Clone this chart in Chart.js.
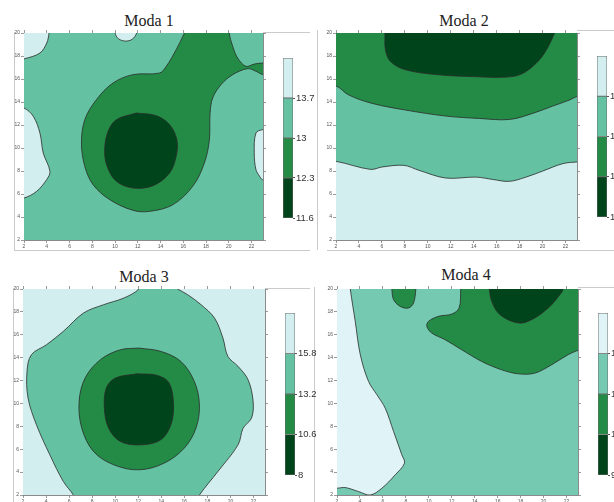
<!DOCTYPE html>
<html lang="pt-br">
<head>
<meta charset="UTF-8">
<title>Modas</title>
<script src="https://cdn.jsdelivr.net/npm/chart.js"></script>
<style>
    body { margin: 0; background: #fff; }
    #fig { position: relative; width: 614px; height: 502px; overflow: hidden; background: #fff; }
    .titulo { position: absolute; font-family: 'Liberation Serif', 'DejaVu Serif', serif; font-size: 16px; color: #222; transform: translateX(-50%); white-space: nowrap; }
    .box { position: absolute; }
    .linha { position: absolute; background: #cacaca; }
</style>
</head>
<body>
<div id="fig">
    <div class="linha" style="left:14px; top:32px; width:1px; height:218px"></div>
    <div class="linha" style="left:263px; top:32px; width:47px; height:1px"></div>
    <div class="linha" style="left:14px; top:250px; width:296px; height:1px"></div>
    <div class="linha" style="left:317px; top:30px; width:1px; height:220px"></div>
    <div class="linha" style="left:577px; top:30px; width:37px; height:1px"></div>
    <div class="linha" style="left:327px; top:250px; width:287px; height:1px"></div>
    <div class="linha" style="left:13px; top:288px; width:1px; height:214px"></div>
    <div class="linha" style="left:265px; top:288px; width:45px; height:1px"></div>
    <div class="linha" style="left:314px; top:287px; width:1px; height:215px"></div>
    <div class="linha" style="left:578px; top:287px; width:36px; height:1px"></div>

    <div class="titulo" style="left:149px; top:12px">Moda 1</div>
    <div class="titulo" style="left:464px; top:12px">Moda 2</div>
    <div class="titulo" style="left:144px; top:268px">Moda 3</div>
    <div class="titulo" style="left:466px; top:266px">Moda 4</div>

    <div class="box" style="left:4px; top:28px"><canvas id="moda1" width="264" height="224"></canvas></div>
    <div class="box" style="left:316px; top:28px"><canvas id="moda2" width="266" height="224"></canvas></div>
    <div class="box" style="left:3px; top:284px"><canvas id="moda3" width="267" height="223"></canvas></div>
    <div class="box" style="left:317px; top:284px"><canvas id="moda4" width="266" height="223"></canvas></div>

    <div class="box" style="left:283px; top:50px"><canvas id="barra1" width="50" height="176"></canvas></div>
    <div class="box" style="left:597px; top:48px"><canvas id="barra2" width="50" height="177"></canvas></div>
    <div class="box" style="left:285px; top:305px"><canvas id="barra3" width="50" height="178"></canvas></div>
    <div class="box" style="left:598px; top:305px"><canvas id="barra4" width="50" height="178"></canvas></div>
</div>

<script>
    // marcas dos eixos
    var ticksX = [2, 4, 6, 8, 10, 12, 14, 16, 18, 20, 22];
    var ticksY = [2, 4, 6, 8, 10, 12, 14, 16, 18, 20];

    // niveis das barras de cor (de baixo pra cima)
    var niveis1 = [11.6, 12.3, 13, 13.7];
    var niveis2 = [11.2, 12.4, 13.6, 14.8];
    var niveis3 = [8, 10.6, 13.2, 15.8];
    var niveis4 = [9, 11.4, 13.8, 16.2];

    var corClaro = '#d2eeee', corMedio = '#64c2a3', corVerde = '#238b45', corEscuro = '#00441b';
    var corClaro4 = '#e0f3f6', corMedio4 = '#74c9b0';

    // fundo (passa um pouco das bordas do grafico)
    var retangulo = [[1, 1], [24, 1], [24, 21], [1, 21], [1, 1]];

    // ----- Moda 1 -----
    var m1CantoSup = [[1, 21], [4.3, 21], [4.2, 20], [4.0, 19.13], [3.4, 18.26], [2, 17.75], [1, 17.6], [1, 21]];
    var m1Topo = [[9.9, 21], [10.0, 20], [10.3, 19.5], [10.9, 19.3], [11.5, 19.45], [11.9, 20], [12.0, 21], [9.9, 21]];
    var m1Esq = [[1, 13.6], [2, 13.48], [2.82, 12.75], [3.4, 11.3], [3.69, 9.57], [4.28, 7.97], [3.99, 7.25], [3.11, 6.23], [2, 5.65], [1, 5.6], [1, 13.6]];
    var m1Dir = [[24, 11.6], [22.96, 11.59], [22.38, 11.3], [22.23, 9.57], [22.38, 8.12], [22.7, 7.54], [22.96, 7.25], [24, 7.25], [24, 11.6]];
    var m1Verde = [[16.1, 20], [16.2, 21], [20.1, 21], [20.04, 20], [20.34, 18.84], [20.77, 17.83], [21.5, 17.1], [22.23, 17.3],
        [23, 17.39], [24, 17.4], [24, 16.4], [23, 16.38], [22.38, 16.67], [21.65, 16.9], [20.34, 16.38], [19.31, 15.51],
        [18.58, 14.35], [18.35, 13.04], [18.29, 10.72], [17.85, 8.7], [16.83, 6.67], [15.08, 5.07], [13.04, 4.49],
        [11.58, 4.58], [9.53, 5.51], [8.07, 6.81], [7.34, 8.41], [7.05, 10.43], [7.34, 12.46], [8.36, 14.2],
        [9.82, 15.65], [11.58, 16.38], [13.91, 16.52], [14.5, 17.1], [15.37, 18.55], [16.1, 20]];
    var m1Escuro = [[11.87, 13.04], [13.62, 12.81], [14.79, 12.03], [15.43, 10.72], [15.37, 9.28], [14.79, 7.83],
        [13.33, 6.72], [11.58, 6.52], [10.12, 7.1], [9.3, 8.41], [9.09, 9.86], [9.39, 11.45], [10.12, 12.46], [11.87, 13.04]];

    // ----- Moda 2 -----
    var m2Medio = [[1, 8.84], [2, 8.84], [5.0, 8.14], [6.02, 8.35], [7.92, 8.49], [9.23, 8.06], [11.56, 7.39], [14.19, 7.47],
        [15.64, 7.27], [17.1, 7.1], [18.56, 7.47], [20.02, 8.0], [21.77, 8.64], [23.08, 8.79], [24, 8.8], [24, 21], [1, 21], [1, 8.84]];
    var m2Verde = [[1, 15.4], [2, 15.4], [3.11, 14.61], [5.15, 13.88], [8.06, 13.3], [11.56, 12.78], [14.48, 12.57], [17.1, 12.48],
        [19.14, 13.01], [20.89, 13.65], [22.35, 14.17], [23.08, 14.52], [24, 14.7], [24, 21], [1, 21], [1, 15.4]];
    var m2Escuro = [[6.2, 21], [6.26, 20], [6.31, 18.54], [6.75, 17.52], [8.06, 16.8], [10.98, 16.36], [13.9, 16.21], [16.52, 16.15],
        [17.98, 16.36], [19.14, 17.09], [20.16, 18.25], [21.04, 20], [21.3, 21], [6.2, 21]];

    // ----- Moda 3 -----
    var m3Medio = [[15.41, 20], [16.29, 19.5], [17.45, 18.63], [18.62, 17.46], [19.35, 15.71], [19.78, 14.11], [20.66, 13.24],
        [21.53, 12.07], [21.97, 10.17], [21.83, 8.72], [21.1, 7.84], [20.66, 6.38], [18.91, 4.05], [17.31, 2], [16.8, 1],
        [6.8, 1], [6.37, 2], [5.5, 3.18], [4.33, 5.51], [3.17, 8.13], [2.44, 10.47], [2.35, 12.8], [2.73, 14.26], [4.04, 15.13],
        [5.5, 16.3], [7.25, 17.9], [9.0, 18.63], [10.75, 19.21], [12.06, 20], [12.5, 21], [15.2, 21], [15.41, 20]];
    var m3Verde = [[12.06, 14.84], [13.95, 14.55], [15.7, 13.67], [16.87, 11.92], [17.31, 9.88], [17.01, 7.84], [15.99, 6.09],
        [14.24, 4.78], [12.06, 4.2], [9.87, 4.64], [8.12, 5.8], [7.1, 7.84], [6.87, 10.17], [7.39, 12.22], [8.71, 13.82],
        [10.45, 14.69], [12.06, 14.84]];
    var m3Escuro = [[11.91, 12.59], [13.66, 12.45], [14.68, 11.78], [15.06, 9.88], [14.83, 8.13], [13.95, 6.82], [12.2, 6.38],
        [10.45, 6.68], [9.43, 7.84], [9.06, 9.59], [9.23, 11.34], [10.02, 12.22], [11.91, 12.59]];

    // ----- Moda 4 -----
    var m4Claro = [[1, 21], [3.1, 21], [3.16, 20], [3.59, 17.17], [4.03, 14.26], [4.75, 11.92], [5.48, 10.76], [6.2, 9.59],
        [6.93, 7.55], [7.65, 5.51], [7.88, 4.78], [7.07, 3.76], [5.91, 2.59], [4.9, 2.0], [3.88, 2.3], [2.72, 2.65], [2, 2.59],
        [1, 2.6], [1, 21]];
    var m4VerdePeq = [[6.7, 21], [6.78, 20], [6.93, 19.07], [7.51, 18.48], [8.23, 18.34], [8.67, 18.78], [8.87, 20], [8.9, 21], [6.7, 21]];
    var m4Verde = [[12.8, 21], [12.78, 20], [12.64, 18.34], [12.0, 17.81], [10.84, 17.61], [9.97, 17.17], [9.83, 16.73],
        [10.26, 16.15], [11.42, 15.57], [12.87, 14.69], [14.61, 13.67], [16.35, 12.94], [17.8, 12.59], [19.25, 12.65],
        [20.7, 13.38], [22.14, 14.26], [23.0, 14.64], [24, 14.9], [24, 21], [12.8, 21]];
    var m4Escuro = [[15.2, 21], [15.28, 20], [15.48, 18.92], [16.2, 17.76], [17.8, 17.03], [18.96, 17.32], [20.41, 18.34],
        [21.42, 19.5], [21.71, 20], [21.8, 21], [15.2, 21]];


    function eixo(pos, marcas, min, max, mostrar, tam) {
        return {
            type: 'linear',
            position: pos,
            min: min,
            max: max,
            afterBuildTicks: function (s) {
                s.ticks = marcas.map(function (v) { return { value: v }; });
            },
            afterFit: function (s) {
                if (pos === 'left' || pos === 'right') s.width = tam;
                else s.height = tam;
            },
            ticks: {
                display: mostrar,
                font: { size: 5, family: 'Liberation Sans' },
                color: '#555',
                padding: 1,
                maxRotation: 0,
                autoSkip: false
            },
            grid: { drawOnChartArea: false, drawTicks: true, tickLength: 3, color: '#6f6f6f', lineWidth: 0.7 },
            border: { display: true, color: '#8a8a8a', width: 1 }
        };
    }

    function contorno(id, camadas) {
        var n = camadas.length;
        new Chart(document.getElementById(id), {
            type: 'line',
            data: {
                datasets: camadas.map(function (c, i) {
                    return {
                        data: c[0].map(function (p) { return { x: p[0], y: p[1] }; }),
                        fill: 'shape',
                        backgroundColor: c[1],
                        borderColor: i === 0 ? 'transparent' : '#2b2b2b',
                        borderWidth: 0.8,
                        pointRadius: 0,
                        tension: i === 0 ? 0 : 0.35,
                        order: n - i,
                        clip: 0
                    };
                })
            },
            options: {
                responsive: false,
                animation: false,
                events: [],
                layout: { padding: 0 },
                elements: { line: { capBezierPoints: false } },
                plugins: { legend: { display: false }, tooltip: { enabled: false } },
                scales: {
                    x: eixo('bottom', ticksX, 2, 23, true, 12),
                    x2: eixo('top', ticksX, 2, 23, false, 5),
                    y: eixo('left', ticksY, 2, 20, true, 20),
                    y2: eixo('right', ticksY, 2, 20, false, 5)
                }
            }
        });
    }

    function barraCor(id, niveis, cores) {
        var passo = niveis[1] - niveis[0];
        var limites = niveis.concat([niveis[3] + passo]);
        new Chart(document.getElementById(id), {
            type: 'bar',
            data: {
                labels: [''],
                datasets: cores.map(function (cor, i) {
                    return {
                        data: [[limites[i], limites[i + 1]]],
                        backgroundColor: cor,
                        borderColor: '#6a6a6a',
                        borderWidth: 0.8,
                        borderSkipped: false,
                        grouped: false,
                        barPercentage: 1,
                        categoryPercentage: 1
                    };
                })
            },
            options: {
                responsive: false,
                animation: false,
                events: [],
                layout: { padding: { top: 8, bottom: 8, left: 0, right: 0 } },
                plugins: { legend: { display: false }, tooltip: { enabled: false } },
                scales: {
                    x: { display: false },
                    y: {
                        position: 'right',
                        min: limites[0],
                        max: limites[4],
                        afterBuildTicks: function (s) {
                            s.ticks = niveis.map(function (v) { return { value: v }; });
                        },
                        afterFit: function (s) { s.width = 40; },
                        ticks: {
                            font: { size: 9.5, family: 'Liberation Sans' },
                            color: '#333',
                            padding: 1,
                            callback: function (v) { return String(v); }
                        },
                        grid: { drawOnChartArea: false, drawTicks: true, tickLength: 2, color: '#555' },
                        border: { display: false }
                    }
                }
            }
        });
    }

    contorno('moda1', [[retangulo, corMedio], [m1CantoSup, corClaro], [m1Topo, corClaro], [m1Esq, corClaro],
        [m1Dir, corClaro], [m1Verde, corVerde], [m1Escuro, corEscuro]]);
    contorno('moda2', [[retangulo, corClaro], [m2Medio, corMedio], [m2Verde, corVerde], [m2Escuro, corEscuro]]);
    contorno('moda3', [[retangulo, corClaro], [m3Medio, corMedio], [m3Verde, corVerde], [m3Escuro, corEscuro]]);
    contorno('moda4', [[retangulo, corMedio4], [m4Claro, corClaro4], [m4VerdePeq, corVerde], [m4Verde, corVerde], [m4Escuro, corEscuro]]);

    var coresBarra = [corEscuro, corVerde, corMedio, corClaro];
    barraCor('barra1', niveis1, coresBarra);
    barraCor('barra2', niveis2, coresBarra);
    barraCor('barra3', niveis3, coresBarra);
    barraCor('barra4', niveis4, [corEscuro, corVerde, corMedio4, corClaro4]);
</script>
</body>
</html>
